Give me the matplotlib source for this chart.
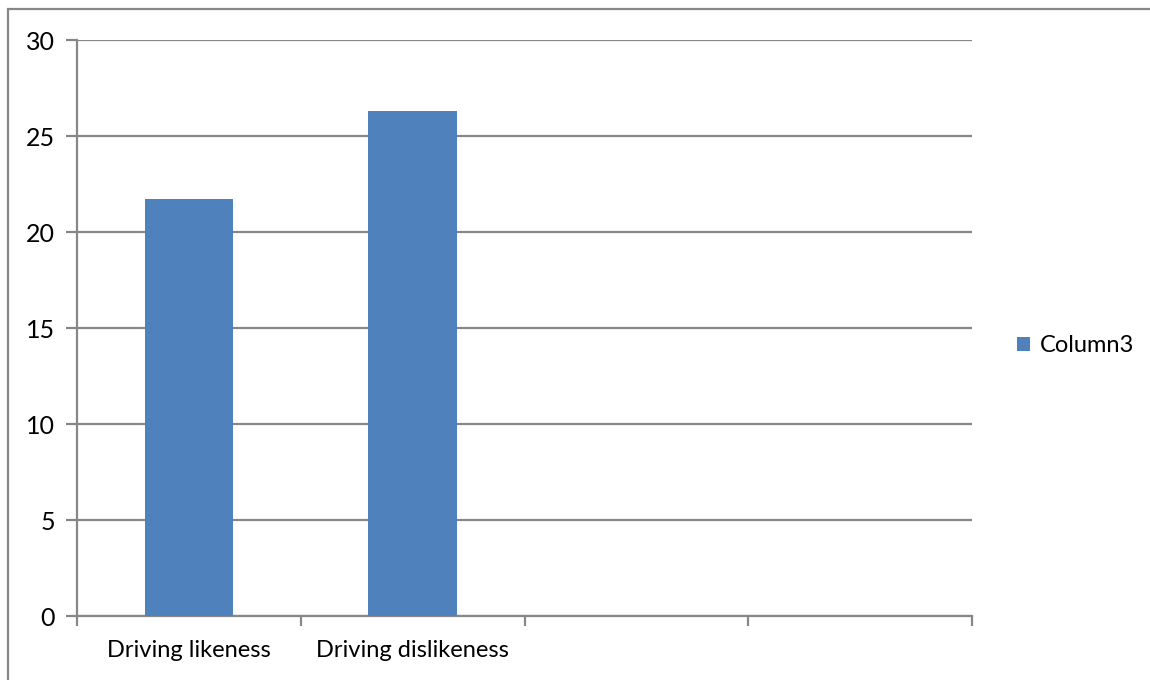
import matplotlib.pyplot as plt
from matplotlib.patches import Rectangle
import numpy as np

categories = ['Driving likeness', 'Driving dislikeness', '', '']
values = [21.7, 26.3, np.nan, np.nan]
series_name = 'Column3'
y_ticks = [0, 5, 10, 15, 20, 25, 30]

plt.rcParams['font.family'] = ['Lato', 'DejaVu Sans']

W, H = 1150, 680
fig = plt.figure(figsize=(W / 100, H / 100), dpi=100)
ax = fig.add_axes([77 / W, 1 - 616 / H, (972 - 77) / W, (616 - 40) / H])

grid_col = '#878787'
bar_col = '#4f81bd'

x = np.arange(len(categories)) + 0.5
ax.bar(x, values, width=0.395, color=bar_col, label=series_name, zorder=3)

ax.set_xlim(0, len(categories))
ax.set_ylim(0, 30)
ax.set_yticks(y_ticks)
ax.yaxis.grid(True, color=grid_col, linewidth=1.6, zorder=0)

ax.set_xticks(np.arange(len(categories) + 1))
ax.set_xticklabels([])
ax.set_xticks(x, minor=True)
ax.set_xticklabels(categories, minor=True)
ax.tick_params(axis='x', which='minor', length=0, pad=17, labelsize=17)
ax.tick_params(axis='x', which='major', length=7, width=1.6, color=grid_col)
ax.tick_params(axis='y', length=8, width=1.6, color=grid_col, pad=8, labelsize=18)

for s in ['top', 'right']:
    ax.spines[s].set_visible(False)
for s in ['left', 'bottom']:
    ax.spines[s].set_color(grid_col)
    ax.spines[s].set_linewidth(1.6)

ax.legend(loc='center left', bbox_to_anchor=(996 / W, 1 - 346 / H),
          bbox_transform=fig.transFigure, frameon=False, fontsize=17,
          handlelength=0.55, handleheight=0.55, handletextpad=0.4)

# chart area border
fig.patches.append(Rectangle((8 / W, -0.05), 1.1, 1 - 9 / H + 0.05,
                             transform=fig.transFigure, fill=False,
                             edgecolor=grid_col, linewidth=1.6))

plt.savefig('out.png', dpi=100)
